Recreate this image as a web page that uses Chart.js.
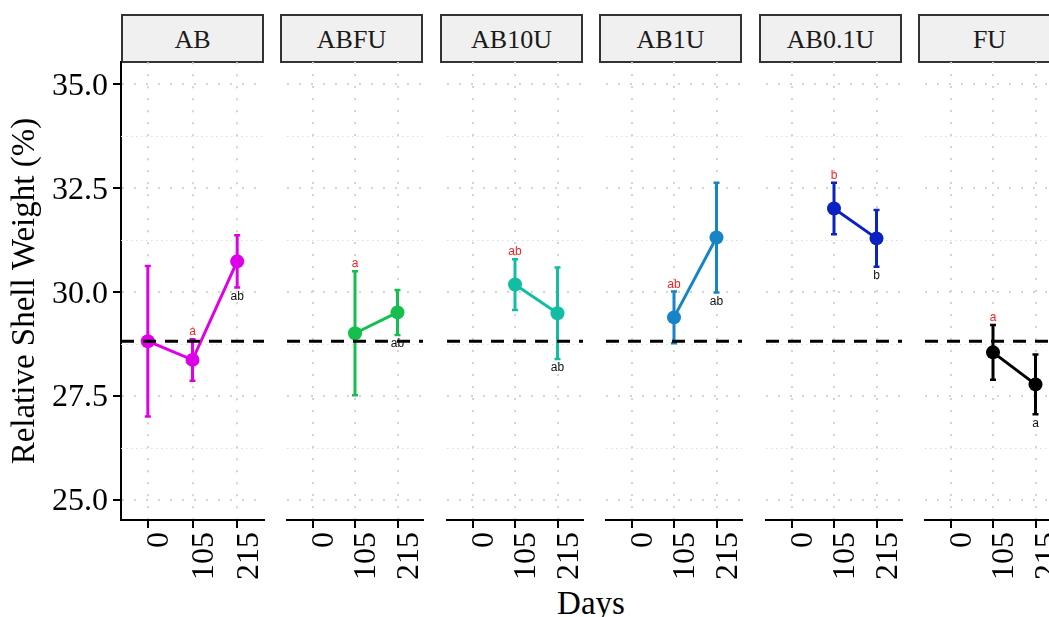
<!DOCTYPE html>
<html>
<head>
<meta charset="utf-8">
<script src="https://cdn.jsdelivr.net/npm/chart.js@4.4.1/dist/chart.umd.min.js"></script>
<style>
  html, body { margin: 0; padding: 0; background: #ffffff; overflow: hidden; }
  body { width: 1049px; height: 617px; position: relative; font-family: "Liberation Serif", "Times New Roman", serif; }
  .strip { position: absolute; top: 14px; height: 49px; box-sizing: border-box; border: 2px solid #333333;
           background: #f0f0f0; color: #1a1a1a; font-size: 26px; text-align: center; line-height: 47px; }
  .panel { position: absolute; top: 38px; }
  #xtitle { position: absolute; left: 491px; width: 200px; top: 587px; height: 33px; line-height: 33px;
            text-align: center; font-size: 33px; color: #000000; }
</style>
</head>
<body>
<div id="xtitle">Days</div>
<script>
// Sampling days and treatment groups
const days = ['0', '105', '215'];
const groups = ['AB', 'ABFU', 'AB10U', 'AB1U', 'AB0.1U', 'FU'];
const groupColors = ['#DE00E8', '#14BF4E', '#12BEA3', '#1784C7', '#0B22C0', '#000000'];

// Mean relative shell weight (%) and error per day (null = not sampled)
const meanAB    = [28.82, 28.37, 30.74];
const errAB     = [1.81, 0.50, 0.63];
const meanABFU  = [null, 29.01, 29.51];
const errABFU   = [null, 1.49, 0.54];
const meanAB10U = [null, 30.18, 29.49];
const errAB10U  = [null, 0.61, 1.10];
const meanAB1U  = [null, 29.39, 31.31];
const errAB1U   = [null, 0.62, 1.32];
const meanAB01U = [null, 32.01, 31.29];
const errAB01U  = [null, 0.62, 0.68];
const meanFU    = [null, 28.55, 27.78];
const errFU     = [null, 0.66, 0.72];

// Significance letters: day 105 (red, above) and day 215 (black, below)
const letters105 = ['a', 'a', 'ab', 'ab', 'b', 'a'];
const letters215 = ['ab', 'ab', 'ab', 'ab', 'b', 'a'];

// Axis ticks
const yTicks = [25, 27.5, 30, 32.5, 35];
const yMinor = [26.25, 28.75, 31.25, 33.75];
const yMin = 24.52, yMax = 35.53;

// Dashed reference level: day-0 mean
const referenceLevel = meanAB[0];

const means = [meanAB, meanABFU, meanAB10U, meanAB1U, meanAB01U, meanFU];
const errs  = [errAB, errABFU, errAB10U, errAB1U, errAB01U, errFU];

const panelLeft = [121, 280, 440, 599, 759, 918];
const panelWidth = 143;
const yAxisWidth = 121;
const rightPad = 30;
const topPad = 24;
const canvasHeight = 617 - 38;
const xAxisHeight = 97;

const serif = 'Liberation Serif';

const facetDecor = {
  id: 'facetDecor',
  beforeDatasetsDraw(chart) {
    const { ctx, chartArea: a, scales: { x, y } } = chart;
    // finer minor horizontal grid
    ctx.save();
    ctx.strokeStyle = '#dddddd';
    ctx.lineWidth = 1;
    ctx.setLineDash([1.5, 3.5]);
    yMinor.forEach(v => {
      const py = Math.round(y.getPixelForValue(v)) + 0.5;
      ctx.beginPath();
      ctx.moveTo(a.left, py);
      ctx.lineTo(a.right, py);
      ctx.stroke();
    });
    ctx.restore();
    // error bars
    chart.data.datasets.forEach(ds => {
      ctx.save();
      ctx.strokeStyle = ds.borderColor;
      ds.data.forEach(p => {
        const px = x.getPixelForValue(p.x);
        const top = y.getPixelForValue(p.y + p.e);
        const bot = y.getPixelForValue(p.y - p.e);
        ctx.lineWidth = 3;
        ctx.beginPath();
        ctx.moveTo(px, top);
        ctx.lineTo(px, bot);
        ctx.stroke();
        ctx.lineWidth = 2.5;
        ctx.beginPath();
        ctx.moveTo(px - 3, top); ctx.lineTo(px + 3, top);
        ctx.moveTo(px - 3, bot); ctx.lineTo(px + 3, bot);
        ctx.stroke();
      });
      ctx.restore();
    });
  },
  afterDatasetsDraw(chart, args, opts) {
    const { ctx, chartArea: a, scales: { x, y } } = chart;
    // dashed reference line
    ctx.save();
    ctx.strokeStyle = '#000000';
    ctx.lineWidth = 3;
    ctx.setLineDash([13, 9]);
    const ry = y.getPixelForValue(referenceLevel);
    ctx.beginPath();
    ctx.moveTo(a.left, ry);
    ctx.lineTo(a.right, ry);
    ctx.stroke();
    ctx.restore();
    // significance letters
    const ds = chart.data.datasets[0];
    ctx.save();
    ctx.font = '12px "Liberation Sans", Arial, sans-serif';
    ctx.textAlign = 'center';
    ds.data.forEach(p => {
      const px = x.getPixelForValue(p.x);
      if (p.x === 1 && opts.above) {
        ctx.fillStyle = '#ff2020';
        ctx.textBaseline = 'alphabetic';
        ctx.fillText(opts.above, px, y.getPixelForValue(p.y + p.e) - 4);
      }
      if (p.x === 2 && opts.below) {
        ctx.fillStyle = '#111111';
        ctx.textBaseline = 'top';
        ctx.fillText(opts.below, px, y.getPixelForValue(p.y - p.e) + 3);
      }
    });
    ctx.restore();
  }
};

groups.forEach((name, i) => {
  const first = i === 0;
  const strip = document.createElement('div');
  strip.className = 'strip';
  strip.style.left = panelLeft[i] + 'px';
  strip.style.width = panelWidth + 'px';
  strip.textContent = name;
  document.body.appendChild(strip);

  const wrap = document.createElement('div');
  wrap.className = 'panel';
  const left = first ? 0 : panelLeft[i];
  const width = (first ? yAxisWidth : 0) + panelWidth + rightPad;
  wrap.style.left = left + 'px';
  const canvas = document.createElement('canvas');
  canvas.width = width;
  canvas.height = canvasHeight;
  wrap.appendChild(canvas);
  document.body.appendChild(wrap);

  const pts = [];
  means[i].forEach((m, k) => { if (m !== null) pts.push({ x: k, y: m, e: errs[i][k] }); });

  new Chart(canvas, {
    type: 'line',
    data: {
      datasets: [{
        data: pts,
        borderColor: groupColors[i],
        backgroundColor: groupColors[i],
        pointBackgroundColor: groupColors[i],
        pointBorderWidth: 0,
        pointRadius: 7,
        borderWidth: 3,
        tension: 0
      }]
    },
    options: {
      responsive: false,
      animation: false,
      events: [],
      layout: { padding: { top: topPad, right: rightPad, left: 0, bottom: 0 } },
      plugins: {
        legend: { display: false },
        tooltip: { enabled: false },
        facetDecor: { above: letters105[i], below: letters215[i] }
      },
      scales: {
        x: {
          type: 'linear',
          min: -0.6, max: 2.6,
          bounds: 'data',
          afterBuildTicks: s => { s.ticks = days.map((d, k) => ({ value: k })); },
          afterFit: s => { s.height = xAxisHeight; },
          ticks: {
            autoSkip: false, minRotation: 90, maxRotation: 90,
            padding: 4, labelOffset: 12, color: '#000000',
            font: { family: serif, size: 32 },
            callback: v => days[v]
          },
          grid: { color: '#d4d4d4', lineWidth: 2, tickLength: 8, tickColor: '#000000', tickWidth: 2, tickBorderDash: [] },
          border: { display: true, color: '#000000', width: 2, dash: [2, 10] }
        },
        y: {
          type: 'linear',
          min: yMin, max: yMax,
          bounds: 'data',
          afterBuildTicks: s => { s.ticks = yTicks.map(v => ({ value: v })); },
          afterFit: s => { s.width = first ? yAxisWidth : 0; },
          ticks: {
            display: first, padding: 5, labelOffset: 2, color: '#000000',
            font: { family: serif, size: 32 },
            callback: v => v.toFixed(1)
          },
          grid: { color: '#d4d4d4', lineWidth: 2, drawTicks: first, tickLength: 8, tickColor: '#000000', tickWidth: 2, tickBorderDash: [] },
          border: { display: first, color: '#000000', width: 2, dash: [2, 10] },
          title: {
            display: first, text: 'Relative Shell Weight (%)', color: '#000000',
            font: { family: serif, size: 33 }, padding: { top: 6, bottom: 0 }
          }
        }
      }
    },
    plugins: [facetDecor]
  });
});
</script>
</body>
</html>
